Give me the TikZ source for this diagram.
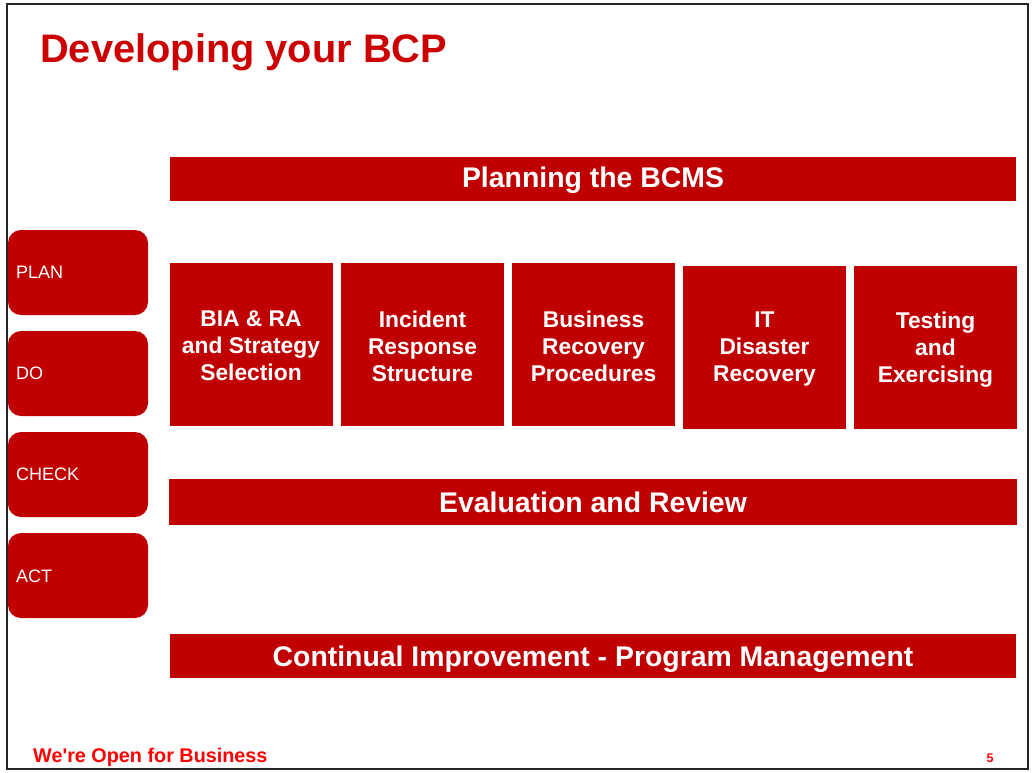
\documentclass[tikz,border=0pt]{standalone}
\usepackage{fontspec}
\setmainfont{Liberation Sans}[Ligatures=TeXOff]
\definecolor{bcpred}{HTML}{C00000}
\definecolor{titlered}{HTML}{CC0000}
\definecolor{footred}{HTML}{FF0000}
\begin{document}
\begin{tikzpicture}[x=1pt,y=-1pt,
  bartext/.style={anchor=base,text=white,inner sep=0pt,font=\fontsize{28.4}{32}\selectfont\bfseries},
  stage/.style={fill=bcpred,draw=none,rounded corners=13pt},
  stagetext/.style={anchor=west,text=white,inner sep=0pt,font=\fontsize{18}{21}\selectfont},
  blockbox/.style={fill=bcpred,draw=none},
  blocktext/.style={inner sep=0pt,text=white,align=center,font=\fontsize{22.8}{27}\selectfont\bfseries}]
\useasboundingbox (0,0) rectangle (1032,772);
\draw[line width=2pt,draw=black!85] (7,4) rectangle (1028,769);
\node[anchor=base west,inner sep=0pt,text=titlered,font=\fontsize{39.8}{46}\selectfont\bfseries] (title) at (40,62) {Developing your BCP};
% bars
\path[fill=bcpred] (170,157) rectangle (1016,201);
\node[bartext] (plan) at (593,187) {Planning the BCMS};
\path[fill=bcpred] (169,479) rectangle (1017,525);
\node[bartext] (eval) at (593,512.5) {Evaluation and Review};
\path[fill=bcpred] (170,634) rectangle (1016,678);
\node[bartext] (cont) at (593,666) {Continual Improvement - Program Management};
% PDCA stages
\path[stage] (8,230) rectangle (148,315);
\node[stagetext] (splan) at (16,272) {PLAN};
\path[stage] (8,331) rectangle (148,416);
\node[stagetext] (sdo) at (16,373) {DO};
\path[stage] (8,432) rectangle (148,517);
\node[stagetext] (scheck) at (16,474) {CHECK};
\path[stage] (8,533) rectangle (148,618);
\node[stagetext] (sact) at (16,576) {ACT};
% blocks
\path[blockbox] (170,263) rectangle (332.5,425.5);
\node[blocktext] (b1) at (251,346) {BIA \& RA\\and Strategy\\Selection};
\path[blockbox] (341,263) rectangle (504,425.5);
\node[blocktext] (b2) at (422.5,346) {Incident\\Response\\Structure};
\path[blockbox] (512,263) rectangle (675,425.5);
\node[blocktext] (b3) at (593.5,346) {Business\\Recovery\\Procedures};
\path[blockbox] (683,266) rectangle (846,429);
\node[blocktext] (b4) at (764.5,349.5) {IT\\Disaster\\Recovery};
\path[blockbox] (854,266) rectangle (1017,429);
\node[blocktext] (b5) at (935.5,350) {Testing\\and\\Exercising};
% footer
\node[anchor=base west,inner sep=0pt,text=footred,font=\fontsize{19.8}{23}\selectfont\bfseries] (foot) at (33,762) {We're Open for Business};
\node[anchor=base,inner sep=0pt,text=footred,font=\fontsize{12.5}{14}\selectfont\bfseries] (page) at (990,762) {5};
\end{tikzpicture}
\end{document}
